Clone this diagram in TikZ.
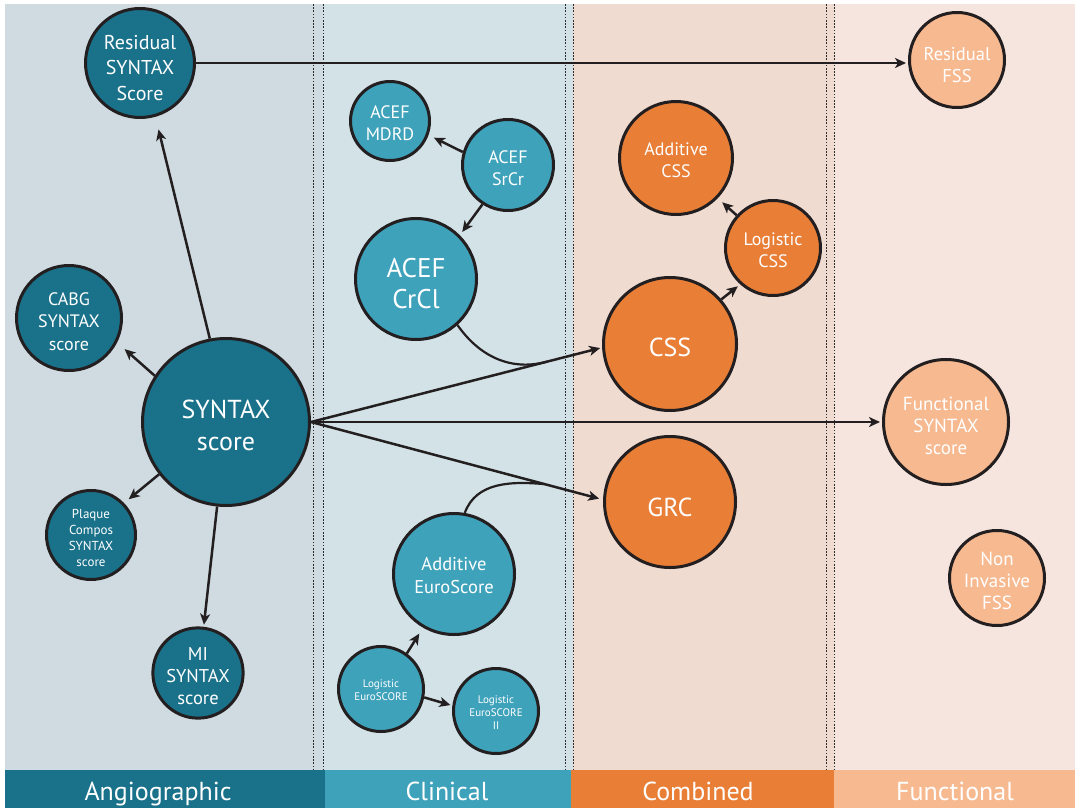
\documentclass[tikz,border=0pt]{standalone}
\usepackage{fontspec}
\setmainfont{PT Sans}
\usepackage{tikz}
\usetikzlibrary{calc,positioning,arrows.meta}
\definecolor{angioc}{HTML}{1A718A}
\definecolor{clinc}{HTML}{3FA2BB}
\definecolor{combc}{HTML}{E97E37}
\definecolor{funcc}{HTML}{F7B990}
\definecolor{angiobg}{HTML}{D0DBE1}
\definecolor{clinbg}{HTML}{D3E2E7}
\definecolor{combbg}{HTML}{F0DBD1}
\definecolor{funcbg}{HTML}{F5E5DE}
\definecolor{linec}{HTML}{231F20}
\definecolor{sepc}{HTML}{2A2A2A}
% taller first line, so the text sits a bit low in its circle
\newcommand{\padtop}[1]{\rule{0pt}{\dimexpr\fontcharht\font`d+#1\relax}}

\begin{document}
\begin{tikzpicture}[x=1pt,y=-1pt,
		bub/.style={circle,draw=linec,line width=3pt,inner sep=0pt,text=white,align=center},
		angio/.style={bub,fill=angioc},
		clin/.style={bub,fill=clinc},
		comb/.style={bub,fill=combc},
		func/.style={bub,fill=funcc},
		conn/.style={draw=linec,line width=2.5pt,-{Stealth[length=11pt,width=10pt,inset=3pt]}},
		joint/.style={draw=linec,line width=2.2pt},
		sep/.style={draw=sepc,line width=1pt,dash pattern=on 1.6pt off 1.6pt},
		band/.style={text=white,anchor=base,font=\fontsize{26}{30}\selectfont}]
		\useasboundingbox[fill=white] (0,0) rectangle (1075,808);
		
		% column backgrounds and bottom bands
		\fill[angiobg] (5,4) rectangle (323,770);
		\fill[clinbg] (323,4) rectangle (573,770);
		\fill[combbg] (573,4) rectangle (834,770);
		\fill[funcbg] (834,4) rectangle (1075,770);
		\fill[angioc] (5,770) rectangle (325,808);
		\fill[clinc] (325,770) rectangle (571,808);
		\fill[combc] (571,770) rectangle (834,808);
		\fill[funcc] (834,770) rectangle (1075,808);
		\foreach \x in {313,323,565,573,826,834}
			\draw[sep] (\x,4) -- (\x,770);
		
		\node[band] (angiolab) at (158,800) {Angiographic};
		\node[band] (clinlab) at (447,800) {Clinical};
		\node[band] (comblab) at (698,800) {Combined};
		\node[band] (funclab) at (955,800) {Functional};
		
		\node[angio,minimum size=109pt,font=\fontsize{20}{25.5}\selectfont] (ressyn) at (140,63) {\padtop{10pt}Residual\\SYNTAX\\Score};
		\node[angio,minimum size=105pt,font=\fontsize{18}{22.5}\selectfont] (cabg) at (69,318) {\padtop{7pt}CABG\\SYNTAX\\score};
		\node[angio,minimum size=167pt,font=\fontsize{26}{32}\selectfont] (syntax) at (226,422) {\padtop{8pt}SYNTAX\\score};
		\node[angio,minimum size=89pt,font=\fontsize{13}{16}\selectfont] (plaque) at (91,535) {\padtop{7pt}Plaque\\Compos\\SYNTAX\\score};
		\node[angio,minimum size=87pt,font=\fontsize{18.5}{22}\selectfont] (mi) at (198,673) {\padtop{7pt}MI\\SYNTAX\\score};
		
		\node[clin,minimum size=79pt,font=\fontsize{18}{22}\selectfont] (mdrd) at (390,121) {\padtop{5pt}ACEF\\MDRD};
		\node[clin,minimum size=91pt,font=\fontsize{18}{22}\selectfont] (srcr) at (508,165) {\padtop{7pt}ACEF\\SrCr};
		\node[clin,minimum size=121pt,font=\fontsize{27}{31}\selectfont] (crcl) at (416,279) {\padtop{10pt}ACEF\\CrCl};
		\node[clin,minimum size=121pt,font=\fontsize{18.5}{23}\selectfont] (addeuro) at (454,574) {\padtop{4pt}Additive\\EuroScore};
		\node[clin,minimum size=85pt,font=\fontsize{11}{13}\selectfont] (logeuro) at (381,689) {\padtop{2pt}Logistic\\EuroSCORE};
		\node[clin,minimum size=85pt,font=\fontsize{11}{12.7}\selectfont] (logeurob) at (496,711) {\padtop{3pt}Logistic\\EuroSCORE\\II};
		
		\node[comb,minimum size=113pt,font=\fontsize{18}{21.7}\selectfont] (addcss) at (676,158) {\padtop{4pt}Additive\\CSS};
		\node[comb,minimum size=95pt,font=\fontsize{18}{21.7}\selectfont] (logcss) at (773,248) {\padtop{5pt}Logistic\\CSS};
		\node[comb,minimum size=133pt,font=\fontsize{26}{30}\selectfont] (css) at (670,344) {\padtop{8pt}CSS};
		\node[comb,minimum size=131pt,font=\fontsize{26}{30}\selectfont] (grc) at (670,502) {\padtop{12pt}GRC};
		
		\node[func,minimum size=95pt,font=\fontsize{18.5}{22}\selectfont] (resfss) at (957,60) {\padtop{11pt}Residual\\FSS};
		\node[func,minimum size=125pt,font=\fontsize{19}{22}\selectfont] (funsyn) at (946,422) {\padtop{8pt}Functional\\SYNTAX\\score};
		\node[func,minimum size=95pt,font=\fontsize{19}{22}\selectfont] (noninv) at (997,578) {\padtop{5pt}Non\\Invasive\\FSS};
		
		\draw[conn,shorten >=13pt] (syntax.101) -- (ressyn.-74);
		\draw[conn,shorten >=10pt] (syntax.147) -- (cabg.-27);
		\draw[conn,shorten >=6pt] (syntax.218) -- (plaque.44);
		\draw[conn,shorten >=2pt] (syntax.264) -- (mi.83);
		\draw[conn,shorten >=2pt] (ressyn.east) -- (ressyn.east -| resfss.west);
		\draw[conn,shorten >=2pt] (syntax.east) -- (css.183);
		\draw[conn,shorten >=2pt] (syntax.east) -- (funsyn.west);
		\draw[conn,shorten >=4pt] (syntax.east) -- (grc.178);
		
		\coordinate (cssj) at ($(syntax.east)!0.81!(css.183)$);
		\coordinate (grcj) at ($(syntax.east)!0.80!(grc.178)$);
		\draw[joint] (crcl.-48) to[out=-55,in=195] (cssj);
		\draw[joint] (addeuro.80) to[out=70,in=175] (grcj);
		
		\draw[conn,shorten >=6pt] (srcr.164) -- (mdrd.-20);
		\draw[conn,shorten >=4pt] (srcr.237) -- (crcl.45);
		\draw[conn,shorten >=6pt] (logcss.138) -- (addcss.-44);
		\draw[conn,shorten >=3pt] (css.41) -- (logcss.228);
		\draw[conn,shorten >=7pt] (logeuro.54) -- (addeuro.240);
		\draw[conn,shorten >=2pt] (logeuro.-11) -- (logeurob.173);
	\end{tikzpicture}
\end{document}
